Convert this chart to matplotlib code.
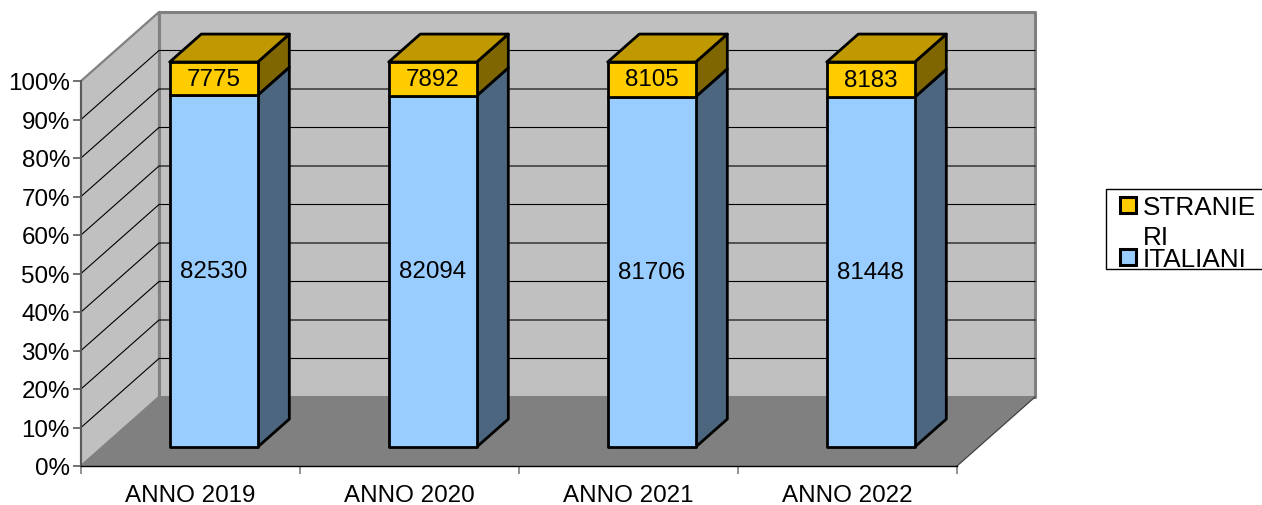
import matplotlib
matplotlib.use('Agg')
import matplotlib.pyplot as plt
from matplotlib.patches import Polygon, Rectangle

plt.rcParams['font.family'] = ['Liberation Sans', 'DejaVu Sans']

# data
years = ['ANNO 2019', 'ANNO 2020', 'ANNO 2021', 'ANNO 2022']
italiani = [82530, 82094, 81706, 81448]
stranieri = [7775, 7892, 8105, 8183]
pct_ticks = [0, 10, 20, 30, 40, 50, 60, 70, 80, 90, 100]

FONT = 17.4
LEGEND_FONT = 18.8
W, H = 1262, 506

# front plane of the fake 3D box, in pixels
LEFT, RIGHT, TOP, BOTTOM = 81, 957, 82, 467
# how far one unit of depth moves a point, in data units
DEPTH_X = 78 / 219
DEPTH_Y = 69 / 3.85

# bars sit between these two depths
BAR_FRONT = 0.275
BAR_BACK = 0.68
BAR_CENTER = 0.508
BAR_W = 0.402
BAR_LW = 2.0


def proj(x, y, d):
    return (x + d * DEPTH_X, y + d * DEPTH_Y)


def face(ax, pts, color, edge='none', lw=0, z=1):
    ax.add_patch(Polygon([proj(*p) for p in pts], closed=True, facecolor=color,
                         edgecolor=edge, linewidth=lw, clip_on=False, zorder=z,
                         joinstyle='round'))


def bar_box(ax, x0, x1, y0, y1, front, side, top=None):
    d0, d1 = BAR_FRONT, BAR_BACK
    face(ax, [(x1, y0, d0), (x1, y0, d1), (x1, y1, d1), (x1, y1, d0)], side, 'black', BAR_LW, 5)
    if top is not None:
        face(ax, [(x0, y1, d0), (x1, y1, d0), (x1, y1, d1), (x0, y1, d1)], top, 'black', BAR_LW, 5)
    face(ax, [(x0, y0, d0), (x1, y0, d0), (x1, y1, d0), (x0, y1, d0)], front, 'black', BAR_LW, 6)


fig = plt.figure(figsize=(W / 100, H / 100), dpi=100, facecolor='white')
ax = fig.add_axes([LEFT / W, 1 - BOTTOM / H, (RIGHT - LEFT) / W, (BOTTOM - TOP) / H])
ax.set_xlim(0, len(years))
ax.set_ylim(0, 100)
ax.patch.set_visible(False)

# walls and floor
n = len(years)
face(ax, [(0, 0, 1), (n, 0, 1), (n, 100, 1), (0, 100, 1)], '#C0C0C0', '#808080', 2.2, 1)
face(ax, [(0, 0, 0), (0, 0, 1), (0, 100, 1), (0, 100, 0)], '#C0C0C0', '#808080', 1.6, 1)
face(ax, [(0, 0, 0), (n, 0, 0), (n, 0, 1), (0, 0, 1)], '#808080', z=2)

# grid on the side wall and the back wall
for p in pct_ticks[1:-1]:
    a, b, c = proj(0, p, 0), proj(0, p, 1), proj(n, p, 1)
    ax.plot([a[0], b[0], c[0]], [a[1], b[1], c[1]], color='black', lw=0.8,
            clip_on=False, zorder=3)
a, b = proj(n, 0, 0), proj(n, 0, 1)
ax.plot([a[0], b[0]], [a[1], b[1]], color='#404040', lw=0.9, clip_on=False, zorder=3)

# stacked bars
for i, year in enumerate(years):
    total = italiani[i] + stranieri[i]
    share = 100 * italiani[i] / total
    x0 = i + BAR_CENTER - BAR_W / 2
    x1 = i + BAR_CENTER + BAR_W / 2
    bar_box(ax, x0, x1, 0, share, '#99CCFF', '#4D6680')
    bar_box(ax, x0, x1, share, 100, '#FFCC00', '#806600', '#C09900')
    cx, cy = proj(i + BAR_CENTER, share / 2, BAR_FRONT)
    ax.text(cx, cy, str(italiani[i]), ha='center', va='center', fontsize=FONT, zorder=7)
    cx, cy = proj(i + BAR_CENTER, (share + 100) / 2, BAR_FRONT)
    ax.text(cx, cy, str(stranieri[i]), ha='center', va='center', fontsize=FONT, zorder=7)

# axes
for s in ['top', 'right']:
    ax.spines[s].set_visible(False)
ax.spines['left'].set_color('#595959')
ax.spines['left'].set_linewidth(1.4)
ax.spines['bottom'].set_color('black')
ax.spines['bottom'].set_linewidth(1.0)
ax.spines['left'].set_zorder(4)
ax.spines['bottom'].set_zorder(4)
ax.set_yticks(pct_ticks)
ax.set_yticklabels([f'{p}%' for p in pct_ticks], fontsize=FONT)
ax.tick_params(axis='y', length=6, width=1.2, color='#595959', pad=2, labelcolor='black')
ax.set_xticks(range(n + 1))
ax.set_xticklabels([])
ax.tick_params(axis='x', which='major', length=6, width=1.2, color='#808080')
ax.set_xticks([i + 0.5 for i in range(n)], minor=True)
ax.set_xticklabels(years, minor=True, fontsize=FONT)
ax.tick_params(axis='x', which='minor', length=0, pad=13)

# legend, drawn by hand because the first label wraps in the box
lg = fig.add_axes([0, 0, 1, 1], zorder=10)
lg.set_xlim(0, W)
lg.set_ylim(H, 0)
lg.axis('off')
lg.add_patch(Rectangle((1105.5, 189.5), 170, 80.5, facecolor='white', edgecolor='black',
                       linewidth=1, clip_on=True))
lg.add_patch(Rectangle((1120, 198), 16, 16, facecolor='#FFCC00', edgecolor='black', linewidth=2.2))
lg.add_patch(Rectangle((1120, 250), 16, 16, facecolor='#99CCFF', edgecolor='black', linewidth=2.2))
lg.text(1143, 215, 'STRANIE', fontsize=LEGEND_FONT, va='baseline')
lg.text(1143, 245, 'RI', fontsize=LEGEND_FONT, va='baseline')
lg.text(1143, 267, 'ITALIANI', fontsize=LEGEND_FONT, va='baseline')

fig.savefig('out.png', dpi=100)
